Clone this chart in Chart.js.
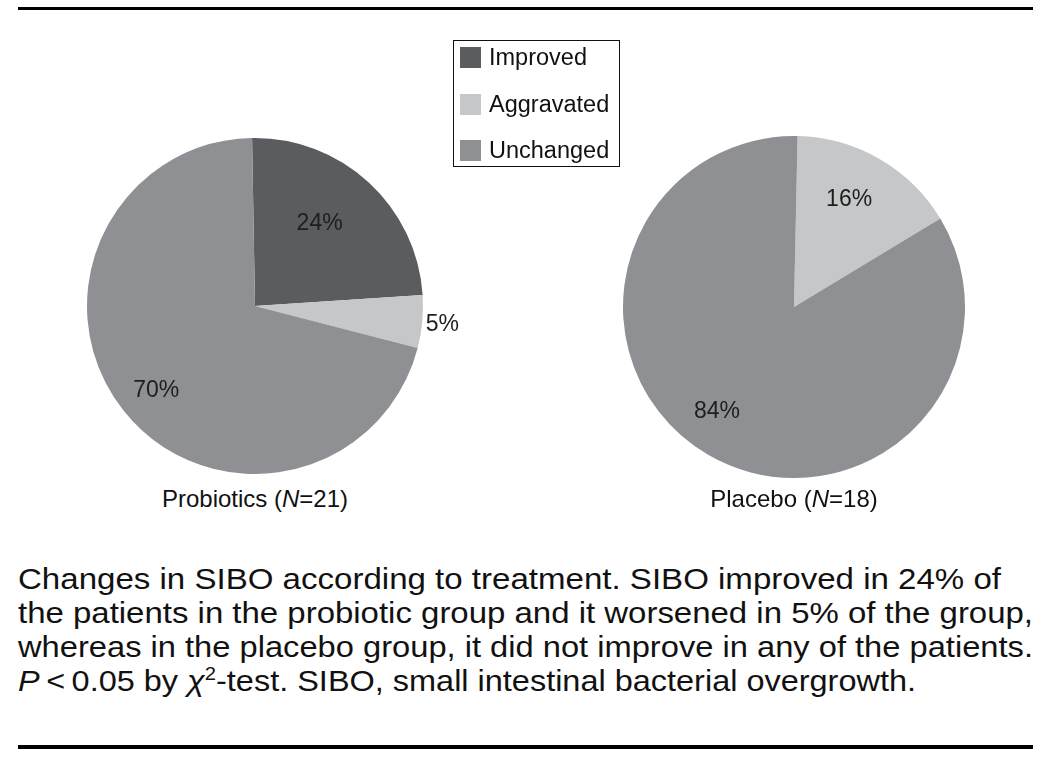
<!DOCTYPE html>
<html>
<head>
<meta charset="utf-8">
<script src="https://cdn.jsdelivr.net/npm/chart.js@4"></script>
<style>
  html, body { margin:0; padding:0; background:#fff; }
  body { width:1052px; height:762px; position:relative; overflow:hidden; font-family:"Liberation Sans", Arial, Helvetica, sans-serif; color:#111; }
  .rule { position:absolute; left:18px; width:1015px; background:#000; }
  .box { position:absolute; }
  #legend { position:absolute; left:453px; top:40px; width:165px; height:125px; border:1.5px solid #111; }
  .li { position:absolute; left:6px; height:22px; font-size:23.5px; line-height:22px; white-space:nowrap; }
  .li span.sw { position:absolute; left:0; top:0; width:21px; height:21px; }
  .li span.tx { position:absolute; left:29px; top:-1px; }
  .cap { position:absolute; font-size:24px; white-space:nowrap; transform:translateX(-50%); }
  .line { position:absolute; left:18px; font-size:29px; white-space:nowrap; transform-origin:0 0; }
</style>
</head>
<body>
<div class="rule" style="top:7px;height:3px;"></div>
<div class="rule" style="top:745px;height:4px;"></div>

<div class="box" id="b1" style="left:27px;top:128px;width:456px;height:356px;"><canvas id="c1"></canvas></div>
<div class="box" id="b2" style="left:563px;top:126px;width:462px;height:362px;"><canvas id="c2"></canvas></div>

<div id="legend"></div>

<div class="cap" style="left:255px;top:485px;">Probiotics (<i>N</i>=21)</div>
<div class="cap" style="left:794px;top:485px;">Placebo (<i>N</i>=18)</div>

<div class="line" id="l1" data-w="983" style="top:563px;">Changes in SIBO according to treatment. SIBO improved in 24% of</div>
<div class="line" id="l2" data-w="1015" style="top:597px;">the patients in the probiotic group and it worsened in 5% of the group,</div>
<div class="line" id="l3" data-w="1015" style="top:631px;">whereas in the placebo group, it did not improve in any of the patients.</div>
<div class="line" id="l4" data-w="898" style="top:665px;"><i>P</i>&thinsp;&lt;&thinsp;0.05 by <i>χ</i><sup style="font-size:18px;line-height:0;">2</sup>-test. SIBO, small intestinal bacterial overgrowth.</div>

<script>
// ---- data ----
const categories = ["Improved", "Aggravated", "Unchanged"];
const probioticsValues = [24, 5, 70];
const placeboValues = [0, 16, 84];
const probioticsLabels = ["24%", "5%", "70%"];
const placeboLabels = ["", "16%", "84%"];

// ---- styles ----
const colors = ["#5b5c60", "#c6c7c9", "#8f9094"];

// legend
const legend = document.getElementById('legend');
categories.forEach((c, i) => {
  const d = document.createElement('div');
  d.className = 'li';
  d.style.top = (6 + i * 46.5) + 'px';
  d.innerHTML = '<span class="sw" style="background:' + colors[i] + '"></span><span class="tx">' + c + '</span>';
  legend.appendChild(d);
});

// slice label plugin
const sliceLabels = {
  id: 'sliceLabels',
  afterDatasetsDraw(chart, args, opts) {
    const ctx = chart.ctx;
    const meta = chart.getDatasetMeta(0);
    ctx.save();
    ctx.font = '23px "Liberation Sans", Arial, sans-serif';
    ctx.fillStyle = '#1e1e1e';
    ctx.textAlign = 'center';
    ctx.textBaseline = 'middle';
    meta.data.forEach((arc, i) => {
      const txt = opts.labels[i];
      if (!txt) return;
      const p = arc.getProps(['x', 'y', 'startAngle', 'endAngle', 'outerRadius'], true);
      const mid = (p.startAngle + p.endAngle) / 2 + (opts.angleOffsets[i] || 0) * Math.PI / 180;
      const r = p.outerRadius * opts.radii[i];
      ctx.fillText(txt, p.x + Math.cos(mid) * r, p.y + Math.sin(mid) * r + 1);
    });
    ctx.restore();
  }
};

function makePie(id, values, labels, rotation, radii, angleOffsets) {
  new Chart(document.getElementById(id), {
    type: 'pie',
    data: {
      labels: categories,
      datasets: [{ data: values, backgroundColor: colors, borderWidth: 0, hoverOffset: 0, offset: 0 }]
    },
    options: {
      responsive: true,
      maintainAspectRatio: false,
      animation: false,
      rotation: rotation,
      layout: { padding: { left: 60, right: 60, top: 10, bottom: 10 } },
      plugins: {
        legend: { display: false },
        tooltip: { enabled: false },
        sliceLabels: { labels: labels, radii: radii, angleOffsets: angleOffsets }
      },
      events: []
    },
    plugins: [sliceLabels]
  });
}

makePie('c1', probioticsValues, probioticsLabels, -1, [0.63, 1.12, 0.77], [-5, 0, -2]);
makePie('c2', placeboValues, placeboLabels, 1.2, [0, 0.71, 0.757], [0, -3, 6.5]);

// fit caption lines to target widths
document.querySelectorAll('.line').forEach(el => {
  const w = el.getBoundingClientRect().width;
  const target = parseFloat(el.dataset.w);
  el.style.transform = 'scaleX(' + (target / w) + ')';
});
</script>
</body>
</html>
